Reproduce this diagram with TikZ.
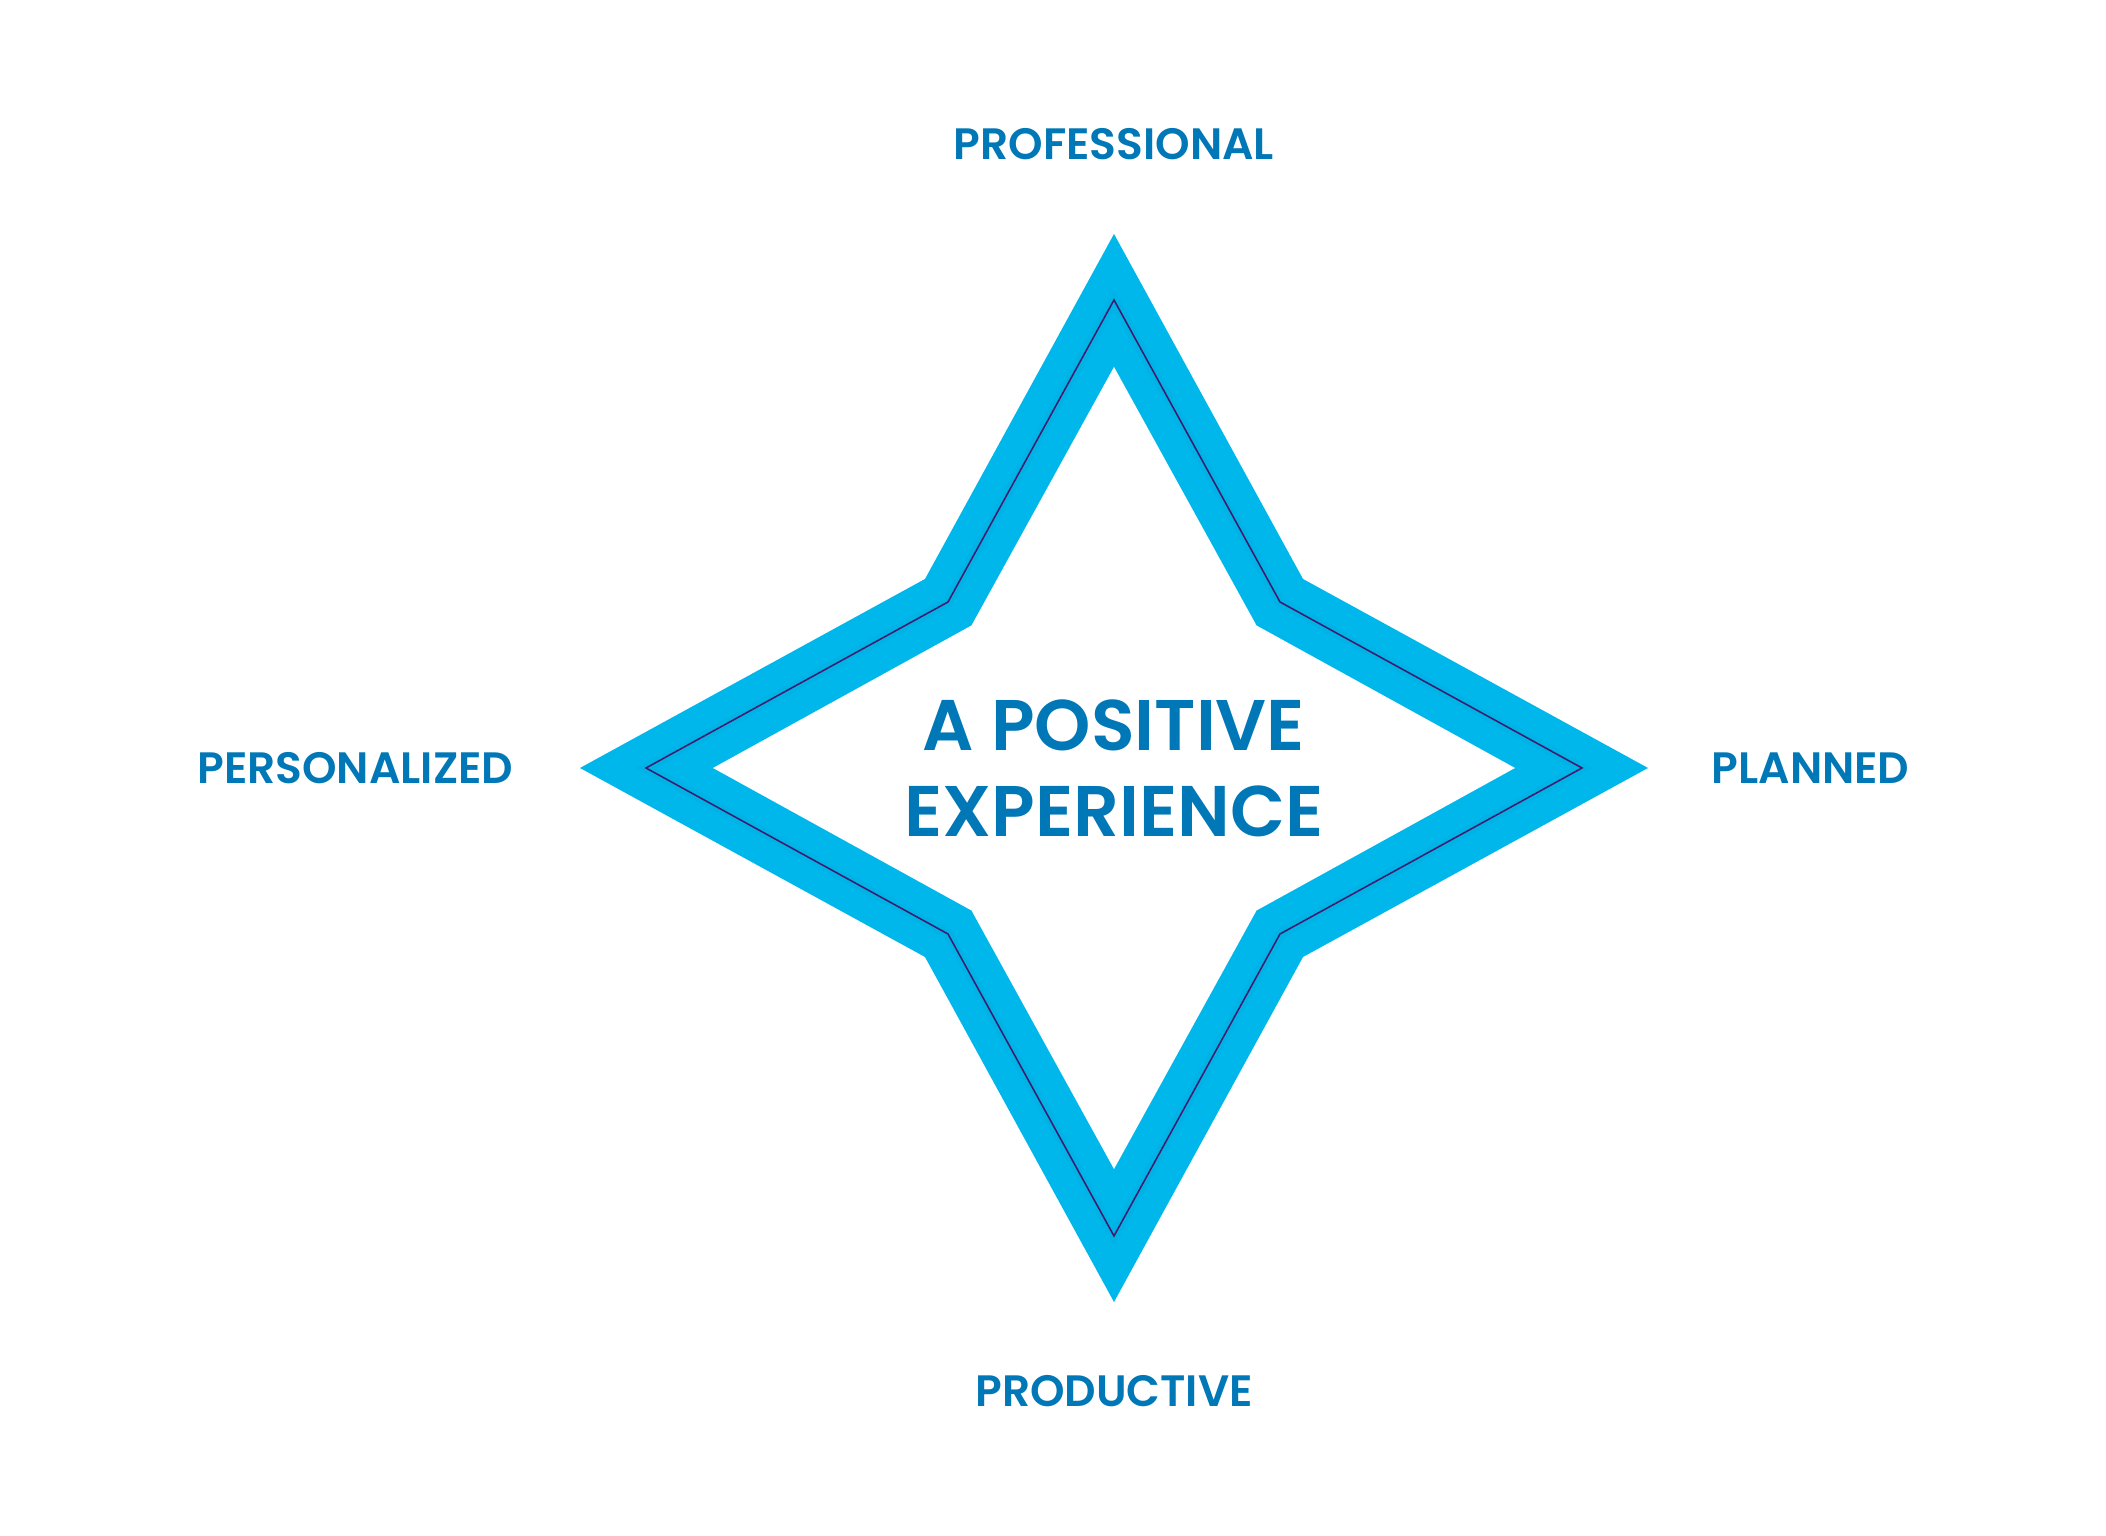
\documentclass[tikz,border=0pt]{standalone}
\usepackage{fontspec}
\setmainfont{Poppins}[BoldFont={Poppins SemiBold}]
\usepackage{tikz}
\usetikzlibrary{positioning}
\definecolor{starblue}{RGB}{0,183,236}
\definecolor{textblue}{RGB}{0,119,182}
\definecolor{starline}{RGB}{62,28,112}
\tikzstyle{quality} = [inner sep=0pt, text=textblue, font=\fontsize{12.5}{15}\selectfont\bfseries]
\tikzstyle{core} = [inner sep=0pt, text=textblue, align=center, font=\fontsize{20.4}{24.5}\selectfont\bfseries]

\begin{document}
\begin{tikzpicture}
        \useasboundingbox (0,0) rectangle (21.06,15.36);
        \coordinate (c) at (11.14,7.68);
        % band of the star
        \fill [starblue] ([yshift=5.34cm]c) -- ++(1.89,-3.45) -- ++(3.45,-1.89) -- ++(-3.45,-1.89) -- ++(-1.89,-3.45) -- ++(-1.89,3.45) -- ++(-3.45,1.89) -- ++(3.45,1.89) -- cycle;
        \fill [white] ([yshift=4.01cm]c) -- ++(1.425,-2.585) -- ++(2.585,-1.425) -- ++(-2.585,-1.425) -- ++(-1.425,-2.585) -- ++(-1.425,2.585) -- ++(-2.585,1.425) -- ++(2.585,1.425) -- cycle;
        % soft shade and line in the band
        \draw [starblue!85!black, opacity=0.12, line width=3pt, line join=miter] ([yshift=4.68cm]c) -- ++(1.66,-3.02) -- ++(3.02,-1.66) -- ++(-3.02,-1.66) -- ++(-1.66,-3.02) -- ++(-1.66,3.02) -- ++(-3.02,1.66) -- ++(3.02,1.66) -- cycle;
        \draw [starline, line width=0.45pt, line join=miter] ([yshift=4.68cm]c) -- ++(1.66,-3.02) -- ++(3.02,-1.66) -- ++(-3.02,-1.66) -- ++(-1.66,-3.02) -- ++(-1.66,3.02) -- ++(-3.02,1.66) -- ++(3.02,1.66) -- cycle;
        \node(center) [core] at (c) {A POSITIVE\\EXPERIENCE};
        \node(prof) [quality] at ([yshift=6.235cm]c) {PROFESSIONAL};
        \node(prod) [quality] at ([yshift=-6.23cm]c) {PRODUCTIVE};
        \node(pers) [quality, left=6.0cm of c] {PERSONALIZED};
        \node(plan) [quality, right=5.97cm of c] {PLANNED};
    \end{tikzpicture}
\end{document}
